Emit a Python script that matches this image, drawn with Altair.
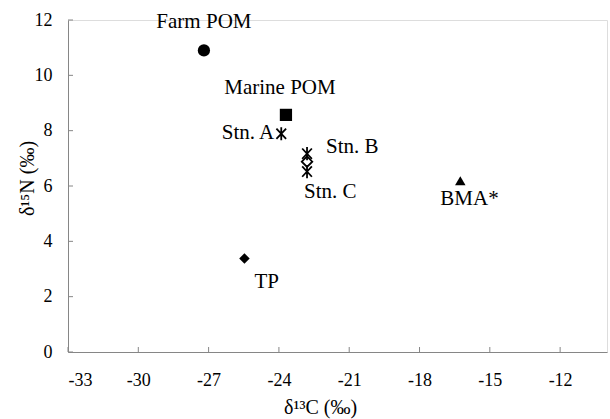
import altair as alt
import pandas as pd

# ---- data ----
names = ["Farm POM", "Marine POM", "Stn. A", "Stn. B", "mid", "Stn. C", "BMA*", "TP"]
d13c = [-27.2, -23.7, -23.9, -22.8, -22.8, -22.8, -16.26, -25.47]
d15n = [10.9, 8.57, 7.89, 7.17, 6.88, 6.52, 6.19, 3.38]
marker = ["circle", "square", "star", "star", "odiamond", "star", "triangle", "diamond"]
labels = ["Farm POM", "Marine POM", "Stn. A", "Stn. B", "", "Stn. C", "BMA*", "TP"]

x_ticks = [-33, -30, -27, -24, -21, -18, -15, -12]
y_ticks = [0, 2, 4, 6, 8, 10, 12]

# ---- layout / style ----
W, H = 539, 332
label_style = {
    "Farm POM": dict(dx=0, dy=-28, align="center"),
    "Marine POM": dict(dx=-6, dy=-27, align="center"),
    "Stn. A": dict(dx=-7, dy=-1, align="right"),
    "Stn. B": dict(dx=19, dy=-7, align="left"),
    "Stn. C": dict(dx=-3, dy=20, align="left"),
    "BMA*": dict(dx=-20, dy=18, align="left"),
    "TP": dict(dx=10, dy=24, align="left"),
}

df = pd.DataFrame({"name": names, "x": d13c, "y": d15n, "marker": marker, "label": labels})

FONT = "Liberation Serif"
TFONT = "Times New Roman"
AX = "#868686"

xs = alt.Scale(domain=[-33, -10], nice=False, zero=False)
ys = alt.Scale(domain=[0, 12], nice=False, zero=False)

base = alt.Chart(df)

x_enc = alt.X("x:Q", scale=xs, axis=alt.Axis(
    values=x_ticks, title="δ¹³C (‰)", tickSize=0, labelPadding=19, grid=False,
    labelExpr="'' + datum.value",
    domainColor=AX, labelFont=FONT, labelFontSize=18, labelColor="black",
    titleFont=FONT, titleFontSize=20, titleFontWeight="normal", titleColor="black",
    titleX=252, titleY=55, titleBaseline="middle", titleAlign="center"))
y_enc = alt.Y("y:Q", scale=ys, axis=alt.Axis(
    values=y_ticks, title="δ¹⁵N (‰)", tickSize=0, labelPadding=16, grid=False,
    domainColor=AX, labelFont=FONT, labelFontSize=18, labelColor="black",
    titleFont=FONT, titleFontSize=20, titleFontWeight="normal", titleColor="black",
    titleX=-41, titleY=158, titleAngle=-90, titleBaseline="middle", titleAlign="center"))

layers = []

# inward ticks
xt = alt.Chart(pd.DataFrame({"x": x_ticks})).mark_rule(color=AX, strokeWidth=1).encode(
    x=alt.X("x:Q", scale=xs), y=alt.value(H), y2=alt.value(H - 5))
yt = alt.Chart(pd.DataFrame({"y": y_ticks})).mark_rule(color=AX, strokeWidth=1).encode(
    y=alt.Y("y:Q", scale=ys), x=alt.value(0), x2=alt.value(5))

axes = base.mark_point(opacity=0).encode(x=x_enc, y=y_enc)
layers += [axes, xt, yt]

STAR = "M-0.85,-0.9L0.85,0.9M-0.85,0.9L0.85,-0.9M0,-1.15L0,1.15"

shape_specs = {
    "circle": dict(shape="circle", size=150, filled=True),
    "square": dict(shape="square", size=150, filled=True),
    "triangle": dict(shape="triangle-up", size=110, filled=True),
    "diamond": dict(shape="diamond", size=110, filled=True),
    "odiamond": dict(shape="diamond", size=110, filled=False),
    "star": dict(shape=STAR, size=130, filled=False),
}
for key, sp in shape_specs.items():
    m = base.transform_filter(alt.datum.marker == key)
    if sp["filled"]:
        mk = m.mark_point(shape=sp["shape"], size=sp["size"], filled=True, color="black", opacity=1)
    else:
        mk = m.mark_point(shape=sp["shape"], size=sp["size"], filled=False, color="black",
                          strokeWidth=1.8, opacity=1)
    layers.append(mk.encode(x=alt.X("x:Q", scale=xs), y=alt.Y("y:Q", scale=ys)))

for lab, st in label_style.items():
    t = base.transform_filter(alt.datum.label == lab).mark_text(
        font=TFONT, fontSize=21, color="black", baseline="middle", **st
    ).encode(x=alt.X("x:Q", scale=xs), y=alt.Y("y:Q", scale=ys), text="label:N")
    layers.append(t)

chart = alt.layer(*layers).properties(
    width=W, height=H,
    background="white",
    autosize=alt.AutoSizeParams(type="none"),
    padding={"left": 68, "top": 20, "right": 3, "bottom": 67},
)

chart.save("out.html", embed_options={"renderer": "svg", "actions": False})
